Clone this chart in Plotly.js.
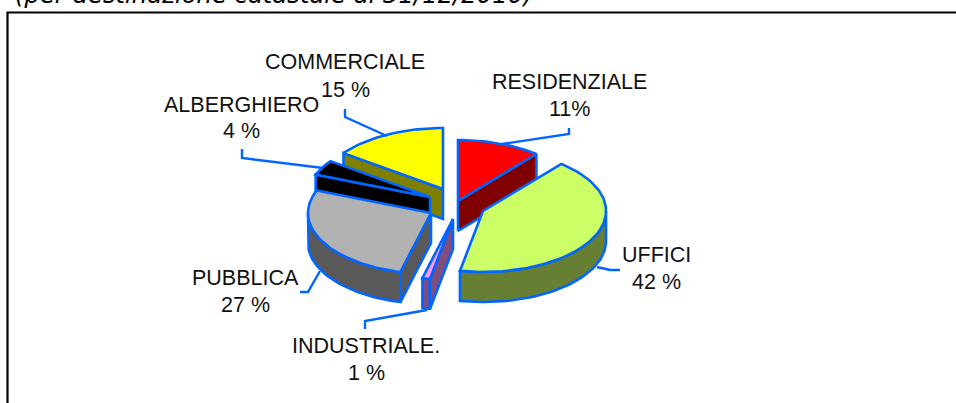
<!DOCTYPE html>
<html>
<head>
<meta charset="utf-8">
<script src="https://cdn.plot.ly/plotly-3.0.1.min.js"></script>
<style>html,body{margin:0;padding:0;background:#fff;overflow:hidden}#chart{width:956px;height:403px}</style>
</head>
<body>
<div id="chart"></div>
<script>
// Data
var categories = ['RESIDENZIALE', 'UFFICI', 'INDUSTRIALE.', 'PUBBLICA', 'ALBERGHIERO', 'COMMERCIALE'];
var shares = [11, 42, 1, 27, 4, 15];
var shareLabels = ['11%', '42 %', '1 %', '27 %', '4 %', '15 %'];
var subtitle = '(per destinazione catastale al 31/12/2010)';

// Styles
var topColors = ['#ff0000', '#ccff66', '#ff99ff', '#b2b2b2', '#000000', '#ffff00'];
var sideColors = ['#800000', '#667f33', '#804d80', '#595959', '#000000', '#808000'];
var edgeColor = '#0066ff';

// Pie geometry (pixel-scaled axes)
var radiusX = 123, radiusY = 61, depth = 30;
var apexX = [458, 483, 453, 431, 430, 443];
var apexY = [201, 211, 219, 213, 197, 189];
var labelX = [569, 656, 366, 245, 241, 345];
var nameY = [82, 255, 346, 278, 105, 62];
var valueY = [109, 282, 373, 305, 131, 90];
var leaderX = [[502, 569, 569], [597, 610, 620], [427, 365, 365], [320, 308, 300], [323, 242, 242], [387, 345, 345]];
var leaderY = [[144, 134, 128], [267, 270, 270], [310, 321, 329], [271, 292, 292], [168, 158, 149], [136, 117, 109]];
var drawOrder = [5, 4, 3, 2, 0, 1];

var traces = [];
function rad(a) { return a * Math.PI / 180; }
function px(i, a) { return apexX[i] + radiusX * Math.sin(rad(a)); }
function py(i, a) { return apexY[i] - radiusY * Math.cos(rad(a)); }
function poly(xs, ys, fill) {
  traces.push({
    type: 'scatter', mode: 'lines', x: xs.concat(xs[0]), y: ys.concat(ys[0]),
    fill: 'toself', fillcolor: fill,
    line: {color: edgeColor, width: 2.6, shape: 'linear'}, hoverinfo: 'skip', showlegend: false
  });
}
function arc(i, a0, a1) {
  var xs = [], ys = [], n = Math.max(2, Math.ceil(Math.abs(a1 - a0) / 2));
  for (var k = 0; k <= n; k++) {
    var a = a0 + (a1 - a0) * k / n;
    xs.push(px(i, a)); ys.push(py(i, a));
  }
  return {x: xs, y: ys};
}

var total = shares.reduce(function (s, v) { return s + v; }, 0);
var starts = [], cum = 0;
shares.forEach(function (v) { starts.push(cum / total * 360); cum += v; });

drawOrder.forEach(function (i) {
  var a0 = starts[i], a1 = a0 + shares[i] / total * 360;
  var ax = apexX[i], ay = apexY[i];
  // outer rim, front half only
  var r0 = Math.max(a0, 90), r1 = Math.min(a1, 270);
  if (r1 > r0) {
    var r = arc(i, r0, r1);
    var lowerX = r.x.slice().reverse();
    var lowerY = r.y.slice().reverse().map(function (y) { return y + depth; });
    poly(r.x.concat(lowerX), r.y.concat(lowerY), sideColors[i]);
  }
  // the cut face that looks towards the viewer
  var faceA = Math.sin(rad(a0)) < -1e-6 ? a0 : (Math.sin(rad(a1)) > 1e-6 ? a1 : null);
  if (faceA !== null) {
    var fx = px(i, faceA), fy = py(i, faceA);
    poly([ax, fx, fx, ax], [ay, fy, fy + depth, ay + depth], sideColors[i]);
  }
  // top surface
  var t = arc(i, a0, a1);
  poly([ax].concat(t.x), [ay].concat(t.y), topColors[i]);
});

// leader lines
categories.forEach(function (c, i) {
  traces.push({
    type: 'scatter', mode: 'lines', x: leaderX[i], y: leaderY[i],
    line: {color: edgeColor, width: 2.4}, hoverinfo: 'skip', showlegend: false
  });
});

var labelFont = {family: 'Liberation Sans, Arial, sans-serif', size: 21.5, color: '#111'};
var annotations = [];
categories.forEach(function (c, i) {
  annotations.push({xref: 'x', yref: 'y', x: labelX[i], y: nameY[i], xanchor: 'center', yanchor: 'middle',
    text: c, showarrow: false, font: labelFont});
  annotations.push({xref: 'x', yref: 'y', x: labelX[i], y: valueY[i], xanchor: 'center', yanchor: 'middle',
    text: shareLabels[i], showarrow: false, font: labelFont});
});
annotations.push({
  xref: 'x', yref: 'y', x: 13, y: 11, xanchor: 'left', yanchor: 'bottom', text: subtitle,
  showarrow: false, font: {family: 'DejaVu Sans', size: 24.3, style: 'italic', color: '#000'}
});

var layout = {
  width: 956, height: 403, margin: {l: 0, r: 0, t: 0, b: 0},
  paper_bgcolor: '#fff', plot_bgcolor: 'rgba(0,0,0,0)', showlegend: false,
  xaxis: {range: [0, 956], visible: false, fixedrange: true},
  yaxis: {range: [403, 0], visible: false, fixedrange: true},
  shapes: [{
    type: 'path', xref: 'x', yref: 'y', path: 'M 7.5 410 L 7.5 12.5 L 960 12.5',
    line: {color: '#000', width: 2.2}, layer: 'below'
  }],
  annotations: annotations
};
Plotly.newPlot('chart', traces, layout, {displayModeBar: false, staticPlot: true});
</script>
</body>
</html>
